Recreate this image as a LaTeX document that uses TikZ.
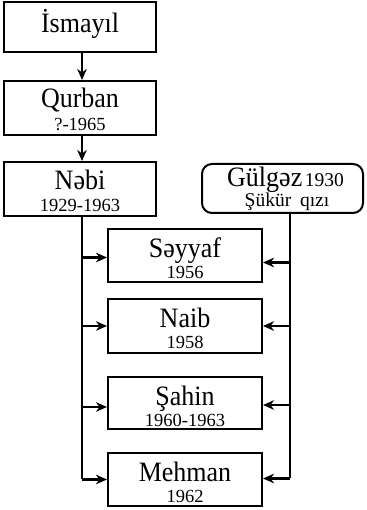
\documentclass[tikz,border=0pt]{standalone}
\usepackage{fontspec}
\usepackage{graphicx}
\setmainfont{Liberation Serif}
\usetikzlibrary{arrows.meta}
\newcommand\tallname[1]{\scalebox{1}[1.08]{#1}}
\begin{document}
\begin{tikzpicture}[x=1pt,y=-1pt,
  box/.style={draw, line width=2pt, inner sep=0pt, minimum width=152pt, minimum height=53pt},
  kid/.style={draw, line width=2pt, inner sep=0pt, minimum width=154pt, minimum height=53pt},
  nm/.style={anchor=base, inner sep=0pt, font=\fontsize{26}{27}\selectfont},
  dt/.style={anchor=base, inner sep=0pt, font=\fontsize{18.5}{19}\selectfont},
  ln/.style={draw, line width=2.2pt},
  arr/.style={draw, line width=2.2pt, -{Stealth[length=11pt,width=9.5pt,inset=3.5pt]}}
]
\useasboundingbox (0,0) rectangle (366,510);
% ancestors
\node[box, minimum height=50pt] (ismayil) at (80,27) {};
\node[nm] (tIsmayil) at (80,33) {\tallname{İsmayıl}};
\node[box, minimum height=54pt] (qurban) at (80,108) {};
\node[nm] (tQurban) at (80,108) {\tallname{Qurban}};
\node[dt] (dQurban) at (80,131) {?-1965};
\node[box, minimum height=54pt] (nebi) at (80,189) {};
\node[nm] (tNebi) at (80,190) {\tallname{Nəbi}};
\node[dt] (dNebi) at (80,212) {1929-1963};
% spouse
\node[draw, line width=2pt, rounded corners=10pt, inner sep=0pt, minimum width=161pt, minimum height=49pt] (gulgez) at (282.5,188.5) {};
\node[anchor=base, inner sep=0pt] (tGulgez) at (285.5,187) {{\fontsize{26}{27}\selectfont\tallname{Gülgəz}} {\fontsize{19.5}{20}\selectfont 1930}};
\node[anchor=base, inner sep=0pt, font=\fontsize{19.5}{20}\selectfont] (dGulgez) at (287,207) {Şükür\hspace{0.45em}qızı};
% children
\node[kid] (seyyaf) at (185,255.5) {};
\node[nm] (tSeyyaf) at (185,257) {\tallname{Səyyaf}};
\node[dt] (dSeyyaf) at (185,278) {1956};
\node[kid, minimum height=54pt] (naib) at (185,326) {};
\node[nm] (tNaib) at (185,327) {\tallname{Naib}};
\node[dt] (dNaib) at (185,348) {1958};
\node[kid, minimum height=52pt] (sahin) at (185,403) {};
\node[nm] (tSahin) at (185,405) {\tallname{Şahin}};
\node[dt] (dSahin) at (185,426) {1960-1963};
\node[kid] (mehman) at (185,479.5) {};
\node[nm] (tMehman) at (185,481) {\tallname{Mehman}};
\node[dt] (dMehman) at (185,502) {1962};
% connectors
\path[arr] ([xshift=2pt]ismayil.south) -- ([xshift=2pt]qurban.north);
\path[arr] ([xshift=2pt]qurban.south) -- ([xshift=2pt]nebi.north);
\coordinate (lt) at ([xshift=2pt]nebi.south);
\coordinate (rt) at ([xshift=7.5pt]gulgez.south);
\path[ln] (lt) -- ([yshift=1pt]lt |- mehman.west);
\path[ln] (rt) -- ([yshift=2pt]rt |- mehman.east);
\path[arr] ([yshift=-2pt]lt |- seyyaf.west) -- ([yshift=-2pt]seyyaf.west);
\path[arr] (lt |- naib.west) -- (naib.west);
\path[arr] ([yshift=-4pt]lt |- sahin.west) -- ([yshift=-4pt]sahin.west);
\path[arr] (lt |- mehman.west) -- (mehman.west);
\path[arr] ([yshift=-7pt]rt |- seyyaf.east) -- ([yshift=-7pt]seyyaf.east);
\path[arr] (rt |- naib.east) -- (naib.east);
\path[arr] ([yshift=-2pt]rt |- sahin.east) -- ([yshift=-2pt]sahin.east);
\path[arr] ([yshift=1pt]rt |- mehman.east) -- ([yshift=1pt]mehman.east);
\end{tikzpicture}
\end{document}
